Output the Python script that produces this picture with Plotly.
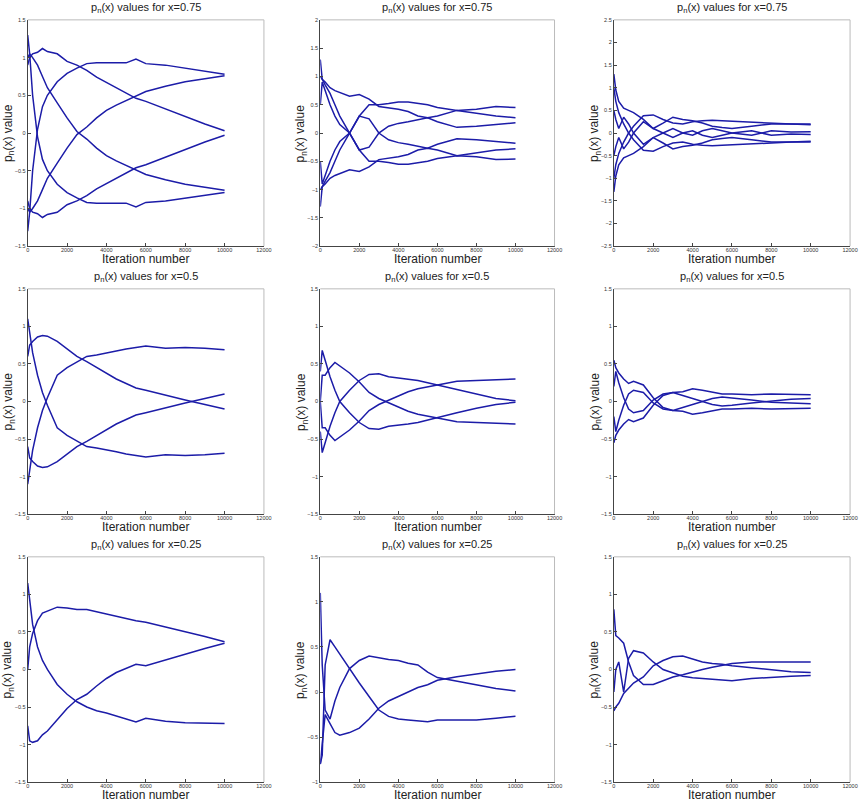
import plotly.graph_objects as go

iters = [0, 100, 250, 500, 750, 1000, 1500, 2000, 2500, 3000, 3500, 4000,
         4500, 5000, 5500, 6000, 7000, 8000, 9000, 10000]

### row 1 : x = 0.75
r1c1_a = [0.9, 1.0, 1.05, 1.07, 1.12, 1.08, 1.05, 0.95, 0.9, 0.83, 0.74, 0.67, 0.6, 0.53, 0.46, 0.42, 0.32, 0.21, 0.12, 0.03]
r1c1_b = [-1.3, -1.05, -0.5, 0.05, 0.35, 0.5, 0.68, 0.79, 0.86, 0.92, 0.93, 0.93, 0.93, 0.93, 0.98, 0.92, 0.9, 0.86, 0.82, 0.78]
r1c1_c = [-1.0, -1.05, -1.0, -0.9, -0.75, -0.6, -0.4, -0.2, -0.02, 0.08, 0.2, 0.3, 0.37, 0.43, 0.5, 0.55, 0.62, 0.68, 0.72, 0.76]
r1c1_d = [-0.9, -1.0, -1.05, -1.07, -1.12, -1.08, -1.05, -0.95, -0.9, -0.83, -0.74, -0.67, -0.6, -0.53, -0.46, -0.42, -0.32, -0.21, -0.12, -0.03]
r1c1_e = [1.3, 1.05, 0.5, -0.05, -0.35, -0.5, -0.68, -0.79, -0.86, -0.92, -0.93, -0.93, -0.93, -0.93, -0.98, -0.92, -0.9, -0.86, -0.82, -0.79]
r1c1_f = [1.0, 1.05, 1.0, 0.9, 0.75, 0.6, 0.4, 0.2, 0.02, -0.08, -0.2, -0.3, -0.37, -0.43, -0.5, -0.55, -0.62, -0.68, -0.72, -0.76]

r1c2_a = [-1.0, -0.95, -0.85, -0.7, -0.5, -0.3, 0.0, 0.3, 0.5, 0.5, 0.52, 0.55, 0.55, 0.53, 0.5, 0.45, 0.4, 0.42, 0.47, 0.45]
r1c2_b = [1.3, 0.95, 0.9, 0.8, 0.75, 0.72, 0.65, 0.68, 0.6, 0.47, 0.45, 0.42, 0.38, 0.3, 0.27, 0.3, 0.4, 0.35, 0.3, 0.27]
r1c2_c = [0.5, 0.9, 0.75, 0.5, 0.3, 0.15, 0.0, -0.3, -0.25, 0.0, 0.12, 0.17, 0.2, 0.24, 0.27, 0.2, 0.1, 0.12, 0.15, 0.18]
r1c2_d = [1.0, 0.95, 0.85, 0.7, 0.5, 0.3, 0.0, -0.3, -0.5, -0.5, -0.52, -0.55, -0.55, -0.53, -0.5, -0.45, -0.4, -0.42, -0.47, -0.46]
r1c2_e = [-1.3, -0.95, -0.9, -0.8, -0.75, -0.72, -0.65, -0.68, -0.6, -0.47, -0.45, -0.42, -0.38, -0.3, -0.27, -0.3, -0.4, -0.35, -0.3, -0.28]
r1c2_f = [-0.5, -0.9, -0.75, -0.5, -0.3, -0.15, 0.0, 0.3, 0.25, 0.0, -0.12, -0.17, -0.2, -0.24, -0.27, -0.2, -0.1, -0.12, -0.15, -0.18]

r1c3_a = [-1.0, -0.7, -0.45, -0.2, 0.0, 0.15, 0.38, 0.4, 0.3, 0.22, 0.2, 0.25, 0.27, 0.28, 0.27, 0.26, 0.25, 0.23, 0.2, 0.2]
r1c3_b = [1.3, 0.95, 0.7, 0.55, 0.5, 0.45, 0.3, 0.1, 0.22, 0.35, 0.3, 0.27, 0.22, 0.15, 0.12, 0.1, 0.15, 0.2, 0.2, 0.18]
r1c3_c = [0.5, 0.3, 0.1, 0.35, 0.2, 0.0, -0.25, -0.1, 0.0, 0.1, 0.0, -0.05, 0.05, 0.1, 0.05, 0.0, -0.05, 0.05, 0.02, 0.03]
r1c3_d = [1.0, 0.7, 0.45, 0.2, 0.0, -0.15, -0.38, -0.4, -0.3, -0.22, -0.2, -0.25, -0.27, -0.28, -0.27, -0.26, -0.25, -0.23, -0.2, -0.2]
r1c3_e = [-1.3, -0.95, -0.7, -0.55, -0.5, -0.45, -0.3, -0.1, -0.22, -0.35, -0.3, -0.27, -0.22, -0.15, -0.12, -0.1, -0.15, -0.2, -0.2, -0.18]
r1c3_f = [-0.5, -0.3, -0.1, -0.35, -0.2, 0.0, 0.25, 0.1, 0.0, -0.1, 0.0, 0.05, -0.05, -0.1, -0.05, 0.0, 0.05, -0.05, -0.02, -0.03]

### row 2 : x = 0.5
r2c1_a = [-1.1, -0.9, -0.65, -0.35, -0.12, 0.05, 0.35, 0.45, 0.53, 0.6, 0.62, 0.65, 0.67, 0.7, 0.72, 0.74, 0.71, 0.72, 0.71, 0.69]
r2c1_b = [1.1, 0.9, 0.65, 0.35, 0.12, -0.05, -0.35, -0.45, -0.53, -0.6, -0.62, -0.65, -0.67, -0.7, -0.72, -0.74, -0.71, -0.72, -0.71, -0.69]
r2c1_c = [0.6, 0.75, 0.8, 0.86, 0.88, 0.87, 0.8, 0.7, 0.6, 0.53, 0.45, 0.38, 0.3, 0.24, 0.18, 0.15, 0.08, 0.02, -0.04, -0.1]
r2c1_d = [-0.6, -0.75, -0.8, -0.86, -0.88, -0.87, -0.8, -0.7, -0.6, -0.53, -0.45, -0.38, -0.3, -0.24, -0.18, -0.15, -0.08, -0.02, 0.04, 0.1]

r2c2_a = [-0.4, -0.68, -0.55, -0.33, -0.15, 0.0, 0.15, 0.28, 0.36, 0.37, 0.33, 0.31, 0.3, 0.28, 0.25, 0.22, 0.15, 0.09, 0.04, 0.01]
r2c2_b = [0.4, 0.68, 0.55, 0.33, 0.15, 0.0, -0.15, -0.28, -0.36, -0.37, -0.33, -0.31, -0.3, -0.28, -0.25, -0.22, -0.15, -0.09, -0.04, -0.01]
r2c2_c = [0.0, 0.35, 0.35, 0.45, 0.52, 0.47, 0.38, 0.26, 0.12, 0.04, -0.02, -0.08, -0.13, -0.17, -0.2, -0.22, -0.27, -0.28, -0.29, -0.3]
r2c2_d = [0.0, -0.35, -0.35, -0.45, -0.52, -0.47, -0.38, -0.26, -0.12, -0.04, 0.02, 0.08, 0.13, 0.17, 0.2, 0.22, 0.27, 0.28, 0.29, 0.3]

r2c3_a = [0.55, 0.45, 0.38, 0.3, 0.24, 0.27, 0.22, 0.05, -0.08, -0.12, -0.13, -0.17, -0.15, -0.12, -0.1, -0.1, -0.09, -0.1, -0.1, -0.09]
r2c3_b = [-0.55, -0.45, -0.38, -0.3, -0.24, -0.27, -0.22, -0.05, 0.08, 0.12, 0.13, 0.17, 0.15, 0.12, 0.1, 0.1, 0.09, 0.1, 0.1, 0.09]
r2c3_c = [0.2, 0.4, 0.25, 0.05, -0.1, -0.15, -0.12, 0.02, 0.1, 0.12, 0.08, 0.04, 0.0, -0.04, -0.06, -0.05, -0.02, 0.01, 0.03, 0.04]
r2c3_d = [-0.2, -0.4, -0.25, -0.05, 0.1, 0.15, 0.12, -0.02, -0.1, -0.12, -0.08, -0.04, 0.0, 0.04, 0.06, 0.05, 0.02, -0.01, -0.02, -0.03]

### row 3 : x = 0.25
r3c1_a = [0.0, 0.3, 0.48, 0.65, 0.75, 0.78, 0.83, 0.82, 0.8, 0.8, 0.77, 0.73, 0.7, 0.67, 0.65, 0.63, 0.57, 0.5, 0.44, 0.37]
r3c1_b = [-0.75, -0.95, -0.97, -0.95, -0.87, -0.82, -0.67, -0.52, -0.4, -0.33, -0.22, -0.12, -0.04, 0.02, 0.07, 0.05, 0.13, 0.21, 0.28, 0.35]
r3c1_c = [1.15, 0.9, 0.6, 0.3, 0.12, 0.0, -0.2, -0.33, -0.43, -0.5, -0.55, -0.58, -0.62, -0.66, -0.7, -0.65, -0.69, -0.71, -0.72, -0.72]

r3c2_a = [1.1, 0.3, -0.2, -0.3, -0.1, 0.05, 0.26, 0.35, 0.4, 0.38, 0.36, 0.35, 0.32, 0.3, 0.22, 0.16, 0.12, 0.08, 0.04, 0.01]
r3c2_b = [-0.8, -0.7, 0.3, 0.58, 0.5, 0.42, 0.25, 0.1, -0.05, -0.2, -0.27, -0.3, -0.31, -0.32, -0.33, -0.31, -0.31, -0.31, -0.29, -0.27]
r3c2_c = [-0.8, -0.6, -0.25, -0.35, -0.45, -0.48, -0.45, -0.4, -0.3, -0.18, -0.1, -0.05, 0.0, 0.05, 0.08, 0.13, 0.17, 0.2, 0.23, 0.25]

r3c3_a = [0.8, 0.45, 0.42, 0.35, 0.1, -0.08, -0.2, -0.2, -0.15, -0.1, -0.07, -0.03, 0.0, 0.03, 0.06, 0.08, 0.1, 0.1, 0.1, 0.1]
r3c3_b = [-0.3, 0.0, 0.1, -0.3, 0.15, 0.25, 0.22, 0.1, 0.0, -0.05, -0.09, -0.11, -0.12, -0.13, -0.14, -0.15, -0.12, -0.1, -0.09, -0.08]
r3c3_c = [-0.55, -0.5, -0.45, -0.32, -0.25, -0.18, -0.1, 0.05, 0.12, 0.17, 0.18, 0.14, 0.1, 0.08, 0.07, 0.05, 0.02, -0.01, -0.03, -0.04]

x_values = ["0.75", "0.5", "0.25"]
y_ranges = [[(-1.5, 1.5), (-2, 2), (-2.5, 2.5)],
            [(-1.5, 1.5), (-1.5, 1.5), (-1.5, 1.5)],
            [(-1.5, 1.5), (-1, 1.5), (-1.5, 1.5)]]

panels = [
    [[r1c1_a, r1c1_b, r1c1_c, r1c1_d, r1c1_e, r1c1_f],
     [r1c2_a, r1c2_b, r1c2_c, r1c2_d, r1c2_e, r1c2_f],
     [r1c3_a, r1c3_b, r1c3_c, r1c3_d, r1c3_e, r1c3_f]],
    [[r2c1_a, r2c1_b, r2c1_c, r2c1_d],
     [r2c2_a, r2c2_b, r2c2_c, r2c2_d],
     [r2c3_a, r2c3_b, r2c3_c, r2c3_d]],
    [[r3c1_a, r3c1_b, r3c1_c],
     [r3c2_a, r3c2_b, r3c2_c],
     [r3c3_a, r3c3_b, r3c3_c]],
]

W, H = 864, 803
col_px = [(26, 265), (322, 559), (619, 858)]
row_px = [(17, 245), (288, 515), (558, 785)]

font = "Liberation Sans, Arial, sans-serif"
line_col = "#1c1ca8"

fig = go.Figure()
layout = dict(width=W, height=H, margin=dict(l=0, r=0, t=0, b=0),
              paper_bgcolor="white", plot_bgcolor="white", showlegend=False,
              font=dict(family=font, color="#222"))
annotations = []
shapes = []

n = 0
for r in range(3):
    for c in range(3):
        n += 1
        xa = "x" if n == 1 else "x%d" % n
        ya = "y" if n == 1 else "y%d" % n
        for curve in panels[r][c]:
            fig.add_trace(go.Scatter(x=iters, y=curve, mode="lines", xaxis=xa, yaxis=ya,
                                     line=dict(color=line_col, width=1.5)))
        x0, x1 = col_px[c][0] / W, col_px[c][1] / W
        y0, y1 = 1 - row_px[r][1] / H, 1 - row_px[r][0] / H
        lo, hi = y_ranges[r][c]
        layout["xaxis" if n == 1 else "xaxis%d" % n] = dict(
            domain=[x0, x1], anchor=ya, range=[0, 12000], tickvals=list(range(0, 12001, 2000)),
            tickformat="d", ticks="inside", ticklen=3, tickcolor="#444", showgrid=False,
            zeroline=False, showline=True, linecolor="#444", linewidth=1,
            ticklabelstandoff=-2, tickfont=dict(size=5.5, color="#333"))
        layout["yaxis" if n == 1 else "yaxis%d" % n] = dict(
            domain=[y0, y1], anchor=xa, range=[lo, hi], dtick=0.5,
            ticks="inside", ticklen=3, tickcolor="#444", showgrid=False,
            zeroline=False, showline=True, linecolor="#444", linewidth=1,
            tickfont=dict(size=5.5, color="#333"))
        # light top and right border, like the matlab box
        shapes.append(dict(type="line", xref=xa + " domain", yref=ya + " domain",
                           x0=0, x1=1, y0=1, y1=1, line=dict(color="#bbb", width=1)))
        shapes.append(dict(type="line", xref=xa + " domain", yref=ya + " domain",
                           x0=1, x1=1, y0=0, y1=1, line=dict(color="#bbb", width=1)))
        # title, x label, y label
        annotations.append(dict(text="p<sub>n</sub>(x) values for x=" + x_values[r],
                                xref="paper", yref="paper", x=(x0 + x1) / 2, y=y1 + 12 / H,
                                xanchor="center", yanchor="middle", showarrow=False,
                                font=dict(size=11, color="#222")))
        annotations.append(dict(text="Iteration number", xref="paper", yref="paper",
                                x=(x0 + x1) / 2, y=y0 - 13 / H, xanchor="center", yanchor="middle",
                                showarrow=False, font=dict(size=12, color="#222")))
        annotations.append(dict(text="p<sub>n</sub>(x) value", xref="paper", yref="paper",
                                x=x0 - 19 / W, y=(y0 + y1) / 2, xanchor="center", yanchor="middle",
                                textangle=-90, showarrow=False, font=dict(size=12, color="#222")))

layout["annotations"] = annotations
layout["shapes"] = shapes
fig.update_layout(layout)

# the page's default body margin would push the figure off the window
fig.write_html("out.html", config={"displayModeBar": False},
               post_script="document.body.style.margin='0';")
